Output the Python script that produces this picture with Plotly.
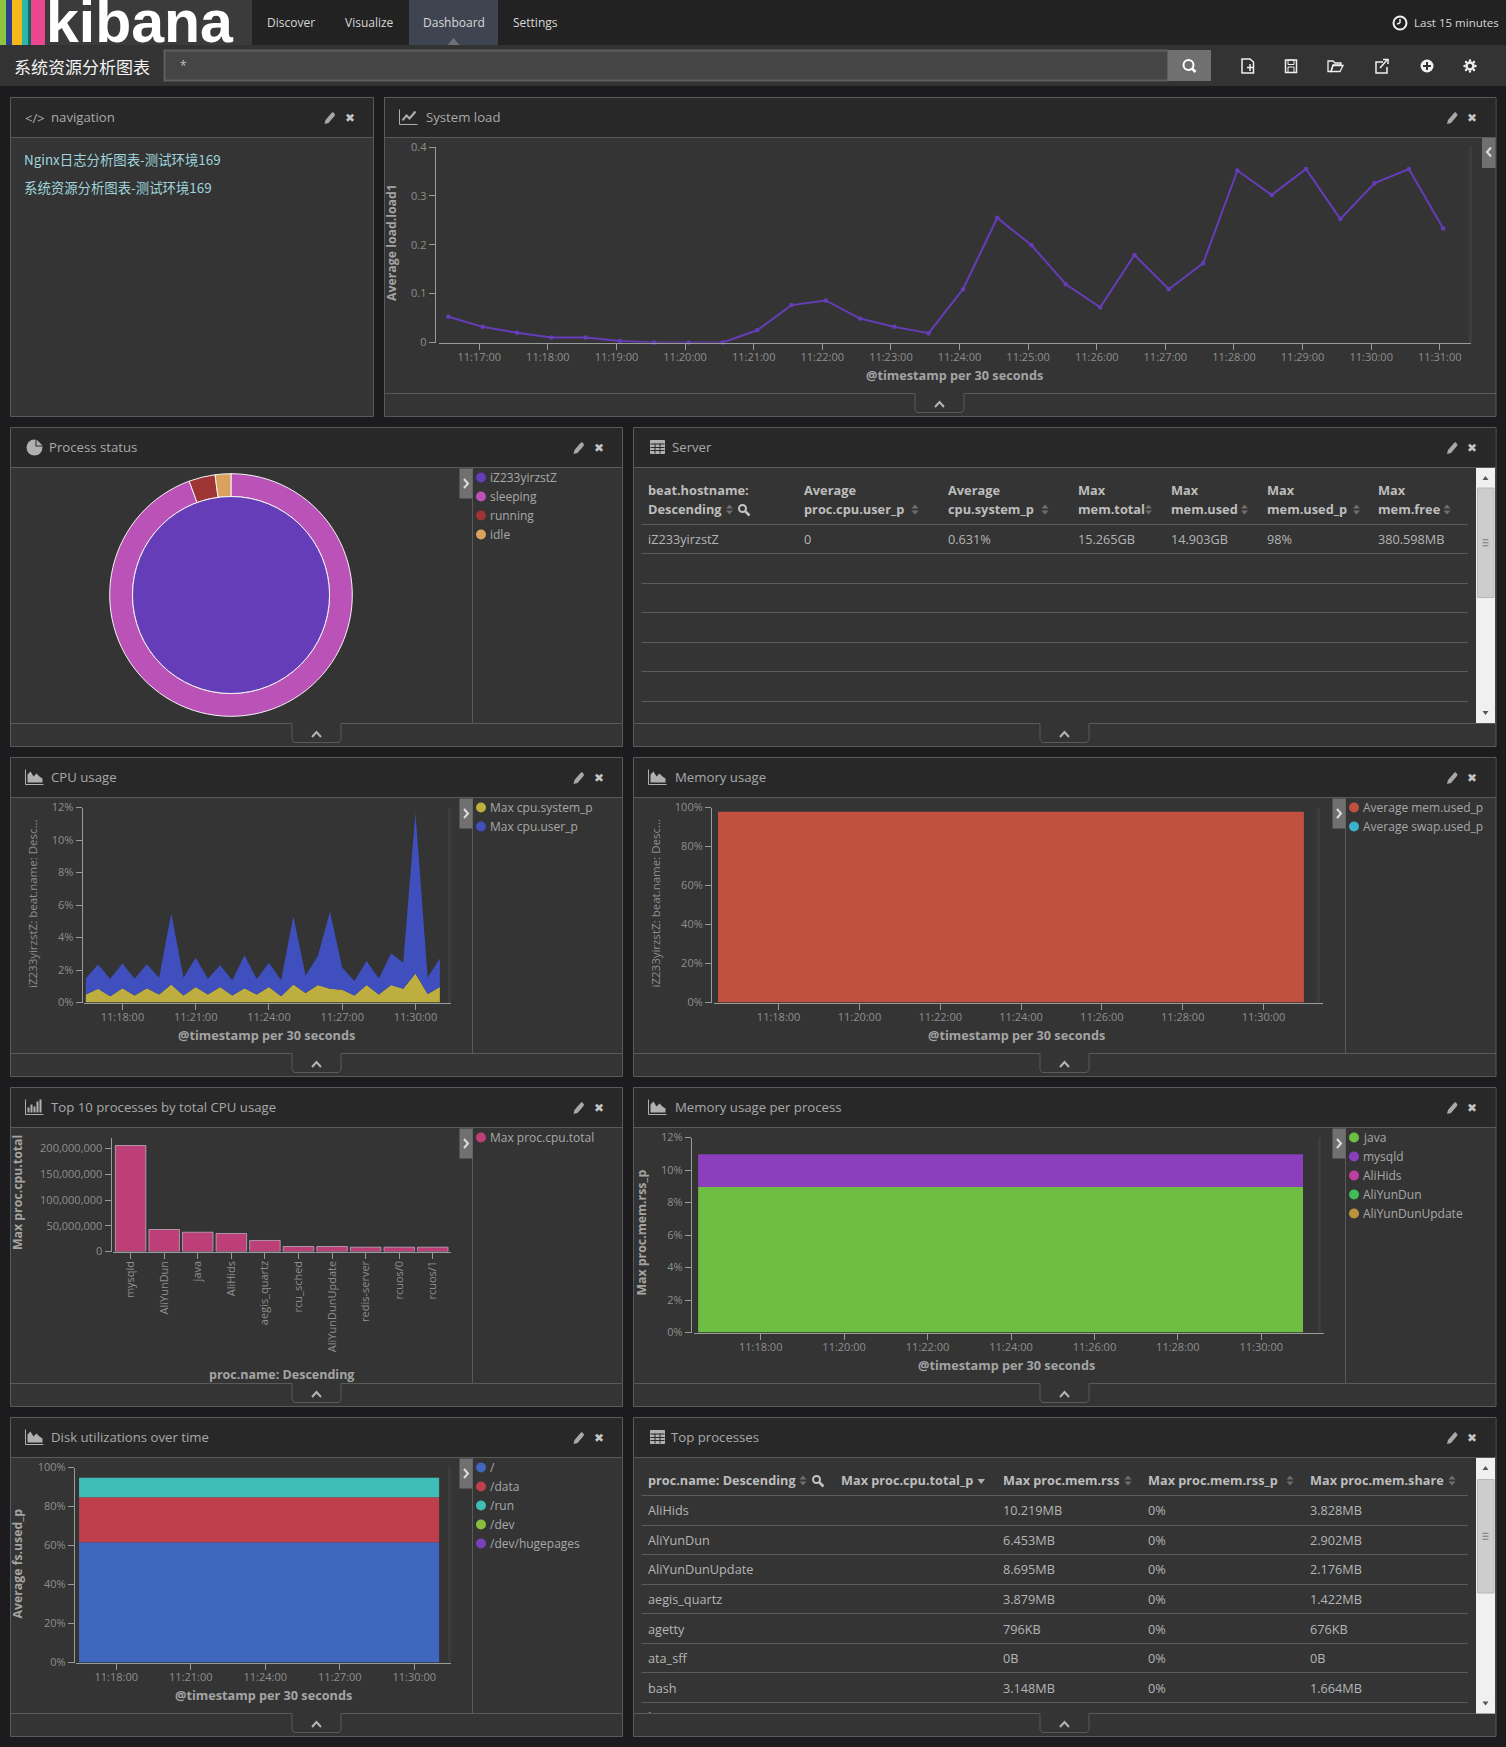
import datetime as dt
import plotly.graph_objects as go

W, H = 1506, 1747

# ---------- data ----------
times = [f"2016-01-01 11:{m:02d}:{s:02d}" for m in range(16, 32) for s in (0, 30)][1:-1]
load_times = [f"2016-01-01 11:{m:02d}:{s + 3:02d}" for m in range(16, 32) for s in (0, 30)][1:-1]
load1 = [.0526, .032, .02, .01, .01, .003, 0, 0, 0, .025, .0765, .086, .049, .032, .019,
         .109, .255, .199, .119, .072, .179, .109, .162, .352, .302, .355, .2525, .326, .355, .233]
cpu_system = [.49, .84, .39, .88, .43, .88, .49, 1.11, .43, .96, .49, .96, .43, .88, .49,
              .96, .39, 1.11, .59, 1.07, .84, .78, .43, 1.07, .49, 1.07, .84, 1.78, .53, .96]
cpu_user = [.99, 1.50, 1.07, 1.52, 1.03, 1.48, 1.03, 4.37, 1.09, 1.79, .97, 1.34, .94, 2.03, .95,
            1.48, .98, 4.20, 1.07, 1.78, 4.74, 1.37, .90, 1.49, .99, 1.95, 1.62, 9.89, 1.01, 1.75]
mem_used = [97.8] * 30
swap_used = [0] * 30
proc_java = [8.96] * 30
proc_mysqld = [2.01] * 30
proc_alihids = [0] * 30
proc_aliyundun = [0] * 30
proc_update = [0] * 30
disk_root = [61.7] * 30
disk_data = [23.1] * 30
disk_run = [9.9] * 30
disk_dev = [0] * 30
disk_huge = [0] * 30
top_names = ["mysqld", "AliYunDun", "java", "AliHids", "aegis_quartz", "rcu_sched",
             "AliYunDunUpdate", "redis-server", "rcuos/0", "rcuos/1"]
top_cpu = [205.8e6, 42.7e6, 37.5e6, 35e6, 21.4e6, 9.7e6, 9.7e6, 8.4e6, 8.4e6, 8.4e6]
status_labels = ["sleeping", "running", "idle"]
status_values = [94.4, 3.5, 2.1]
server_head = [("beat.hostname:", "Descending"), ("Average", "proc.cpu.user_p"), ("Average", "cpu.system_p"),
               ("Max", "mem.total"), ("Max", "mem.used"), ("Max", "mem.used_p"), ("Max", "mem.free")]
server_row = ["iZ233yirzstZ", "0", "0.631%", "15.265GB", "14.903GB", "98%", "380.598MB"]
proc_head = ["proc.name: Descending", "Max proc.cpu.total_p", "Max proc.mem.rss", "Max proc.mem.rss_p", "Max proc.mem.share"]
proc_rows = [("AliHids", "", "10.219MB", "0%", "3.828MB"),
             ("AliYunDun", "", "6.453MB", "0%", "2.902MB"),
             ("AliYunDunUpdate", "", "8.695MB", "0%", "2.176MB"),
             ("aegis_quartz", "", "3.879MB", "0%", "1.422MB"),
             ("agetty", "", "796KB", "0%", "676KB"),
             ("ata_sff", "", "0B", "0%", "0B"),
             ("bash", "", "3.148MB", "0%", "1.664MB")]
proc_clipped_row = ("bioset", "", "0B", "0%", "0B")

# ---------- colours ----------
PAGE, NAV, BAR, BODY, HEAD, EDGE = "#1c1c1f", "#222222", "#333333", "#343434", "#282828", "#5a5a5a"
TXT, TICK, AXIS = "#a8a8a8", "#8e8e8e", "#9a9a9a"
FONT = "Open Sans"
CJK = "Noto Sans CJK SC"

shapes, annots = [], []
X = lambda x: x / W
Y = lambda y: 1 - y / H


def rect(x0, y0, x1, y1, fill=None, line=None, lw=1):
    shapes.append(dict(type="rect", xref="paper", yref="paper", x0=X(x0), x1=X(x1), y0=Y(y0), y1=Y(y1),
                       fillcolor=fill or "rgba(0,0,0,0)", line=dict(color=line or "rgba(0,0,0,0)", width=lw if line else 0),
                       layer="below"))


def seg(x0, y0, x1, y1, color=EDGE, lw=1):
    shapes.append(dict(type="line", xref="paper", yref="paper", x0=X(x0), x1=X(x1), y0=Y(y0), y1=Y(y1),
                       line=dict(color=color, width=lw), layer="below"))


def poly(pts, fill=None, line=None, lw=1, close=True):
    d = "M " + " L ".join(f"{X(a):.6f} {Y(b):.6f}" for a, b in pts) + (" Z" if close else "")
    shapes.append(dict(type="path", xref="paper", yref="paper", path=d, fillcolor=fill or "rgba(0,0,0,0)",
                       line=dict(color=line or "rgba(0,0,0,0)", width=lw if line else 0), layer="below"))


def circ(cx, cy, r, fill=None, line=None, lw=1):
    shapes.append(dict(type="circle", xref="paper", yref="paper", x0=X(cx - r), x1=X(cx + r), y0=Y(cy - r), y1=Y(cy + r),
                       fillcolor=fill or "rgba(0,0,0,0)", line=dict(color=line or "rgba(0,0,0,0)", width=lw if line else 0),
                       layer="below"))


def T(x, y, text, size=12, color=TXT, anchor="left", angle=0, font=FONT, bold=False, vanchor="middle", height=None, valign="middle"):
    a = dict(xref="paper", yref="paper", x=X(x), y=Y(y), text=f"<b>{text}</b>" if bold else text,
             showarrow=False, xanchor=anchor, yanchor=vanchor, textangle=angle, borderpad=0, borderwidth=0,
             font=dict(family=font, size=size, color=color))
    if height:
        a.update(height=height, valign=valign)
    annots.append(a)


def chevron(cx, cy, kind, color="#c8c8c8", lw=2):
    r = 3.5
    p = {"up": [(cx - r - 1, cy + r - 1), (cx, cy - r + 1), (cx + r + 1, cy + r - 1)],
         "right": [(cx - 2, cy - r - 1), (cx + 2, cy), (cx - 2, cy + r + 1)],
         "left": [(cx + 2, cy - r - 1), (cx - 2, cy), (cx + 2, cy + r + 1)]}[kind]
    poly(p, line=color, lw=lw, close=False)


def magnifier(cx, cy, color, r=4):
    circ(cx - 1, cy - 1, r, line=color, lw=2)
    seg(cx + 2, cy + 2, cx + 6, cy + 6, color, 2.5)


def sorter(x, y, color="#6e6e6e"):
    poly([(x - 3.5, y - 1), (x + 3.5, y - 1), (x, y - 5)], fill=color)
    poly([(x - 3.5, y + 1), (x + 3.5, y + 1), (x, y + 5)], fill=color)


def scrollbar(x0, x1, y0, y1, t0, t1):
    rect(x0, y0, x1, y1, fill="#f0f0f0")
    rect(x0 + 1.5, t0, x1 - 1, t1, fill="#cdcdcd", line="#b8b8b8")
    cx = (x0 + x1) / 2
    poly([(cx - 3, y0 + 12), (cx + 3, y0 + 12), (cx, y0 + 8)], fill="#555")
    poly([(cx - 3, y1 - 12), (cx + 3, y1 - 12), (cx, y1 - 8)], fill="#555")
    for k in (-3, 0, 3):
        seg(cx - 3, (t0 + t1) / 2 + k, cx + 3, (t0 + t1) / 2 + k, "#777", 1)


def pencil(cx, cy):
    poly([(cx - 5, cy + 6), (cx - 4, cy + 2), (cx + 2, cy - 5), (cx + 3.5, cy - 6), (cx + 5.5, cy - 3.5), (cx + 5, cy - 2), (cx - 1, cy + 5)],
         fill="#a8a8a8")


def icon(kind, cx, cy):
    c = "#b0b0b0"
    if kind == "code":
        T(cx, cy, "&lt;/&gt;", 13, c, "center")
    elif kind == "line":
        poly([(cx - 9, cy - 8), (cx - 9, cy + 7), (cx + 9, cy + 7)], line=c, close=False)
        poly([(cx - 6, cy + 3), (cx - 2, cy - 2), (cx + 1, cy + 1), (cx + 7, cy - 6)], line=c, lw=2, close=False)
    elif kind == "area":
        poly([(cx - 9, cy - 8), (cx - 9, cy + 7), (cx + 9, cy + 7)], line=c, close=False)
        poly([(cx - 7, cy + 5), (cx - 7, cy - 3), (cx - 4, cy - 6), (cx - 1, cy - 1), (cx + 2, cy - 4),
              (cx + 5, cy - 1), (cx + 8, cy + 1), (cx + 8, cy + 5)], fill=c)
    elif kind == "bar":
        poly([(cx - 9, cy - 8), (cx - 9, cy + 7), (cx + 9, cy + 7)], line=c, close=False)
        for dx, h in ((-6, 5), (-3, 8), (0, 6), (3, 11), (6, 13)):
            rect(cx + dx - 1, cy + 5 - h, cx + dx + 1, cy + 5, fill=c)
    elif kind == "pie":
        circ(cx, cy, 8, fill=c)
        poly([(cx + 1, cy - 1), (cx + 1, cy - 10), (cx + 10, cy - 6), (cx + 10, cy - 1)], fill=HEAD)
        poly([(cx + 2, cy - 2), (cx + 2, cy - 8), (cx + 8, cy - 2)], fill=c)
    elif kind == "table":
        rect(cx - 7, cy - 7, cx + 7, cy + 6, line=c, fill=c)
        for dx in (-2.5, 2.5):
            seg(cx + dx, cy - 4, cx + dx, cy + 6, HEAD, 1)
        for dy in (-3.5, 0, 3):
            seg(cx - 7, cy + dy, cx + 7, cy + dy, HEAD, 1)


# ---------- page chrome ----------
rect(0, 0, W, H, fill=PAGE)
rect(0, 0, W, 45, fill=NAV)
rect(0, 0, 252, 45, fill="#3b3b3b")
for x0, x1, c in [(0, 6, "#8CC63F"), (6, 12, "#2B3D8F"), (12, 22, "#F4B81C"), (22, 28, "#2DB5AC"),
                  (28, 31, "#0E6B62"), (31, 45, "#EE4590")]:
    rect(x0, 0, x1, 45, fill=c)
rect(409, 0, 498, 45, fill="#3f4550")
poly([(447.5, 45), (459.5, 45), (453.5, 38)], fill="#6a6f78")
rect(0, 45, W, 86, fill=BAR)
rect(164.5, 50.5, 1168, 80.5, fill="#454545", line="#5e5e5e", lw=2)
rect(1168, 50, 1211, 81, fill="#707070")
T(46, 55.5, "kibana", 59, "#ffffff", font="Liberation Sans", bold=True, vanchor="bottom", height=55, valign="bottom")
for name, cx in [("Discover", 291), ("Visualize", 369), ("Dashboard", 454), ("Settings", 535)]:
    T(cx, 22.5, name, 12, "#d8d8d8", "center")
T(14, 66, "系统资源分析图表", 17, "#f2f2f2", font=CJK, height=18)
T(180, 65, "*", 12, "#c0c0c0")
T(1499, 22.5, "Last 15 minutes", 11.5, "#d8d8d8", "right")
circ(1400, 23, 6.5, line="#f0f0f0", lw=2)
seg(1400, 23, 1400, 19, "#f0f0f0", 1.5)
seg(1400, 23, 1397, 24, "#f0f0f0", 1.5)
magnifier(1189.5, 66, "#ffffff", 5)
IC = "#f0f0f0"
poly([(1242, 59), (1250, 59), (1253.5, 62), (1253.5, 73), (1242, 73)], line=IC, lw=1.5)
seg(1250, 64, 1250, 71, IC, 1.5)
seg(1247, 67.5, 1253, 67.5, IC, 1.5)
rect(1285.5, 60, 1296.5, 72.5, line=IC, lw=1.5)
rect(1288, 60, 1294, 64.5, line=IC)
rect(1288, 67, 1294, 72.5, line=IC)
poly([(1328, 61), (1333, 61), (1335, 63), (1341, 63), (1341, 65), (1333, 65), (1331, 71.5), (1328, 71.5)], line=IC, lw=1.3)
poly([(1331, 71.5), (1333, 65.5), (1343, 65.5), (1340, 71.5)], line=IC, lw=1.3)
poly([(1383, 62), (1376, 62), (1376, 73), (1387, 73), (1387, 67)], line=IC, lw=1.5, close=False)
seg(1380, 68, 1387, 60, IC, 1.5)
poly([(1383, 59.5), (1388, 59.5), (1388, 64)], line=IC, lw=1.5, close=False)
circ(1427, 66, 6.5, fill=IC)
seg(1423, 66, 1431, 66, "#333", 2)
seg(1427, 62, 1427, 70, "#333", 2)
circ(1470, 66, 3.5, line=IC, lw=2.5)
for a, b in [(0, -5.5), (0, 5.5), (-5.5, 0), (5.5, 0), (-4, -4), (4, 4), (-4, 4), (4, -4)]:
    circ(1470 + a, 66 + b, 1.2, fill=IC)

# ---------- panels ----------
L0, L1, R0, R1 = 10.5, 622.5, 633.5, 1496
rows = [97, 427, 757, 1087, 1417]
panels = [(L0, 373.5, 0, "navigation", "code", 50.5, None, None),
          (384.5, R1, 0, "System load", "line", 425.5, None, 939.5),
          (L0, L1, 1, "Process status", "pie", 49, 472.5, 316.5),
          (R0, R1, 1, "Server", "table", 671.5, None, 1064.5),
          (L0, L1, 2, "CPU usage", "area", 51, 472.5, 316.5),
          (R0, R1, 2, "Memory usage", "area", 674.5, 1345.5, 1064.5),
          (L0, L1, 3, "Top 10 processes by total CPU usage", "bar", 51, 472.5, 316.5),
          (R0, R1, 3, "Memory usage per process", "area", 674.5, 1345.5, 1064.5),
          (L0, L1, 4, "Disk utilizations over time", "area", 51, 472.5, 316.5),
          (R0, R1, 4, "Top processes", "table", 671, None, 1064.5)]
for x0, x1, r, title, kind, tx, div, tab in panels:
    t = rows[r] + .5
    b = t + 319
    rect(x0, t, x1, b, fill=BODY, line=EDGE)
    rect(x0 + .5, t + .5, x1 - .5, t + 40, fill=HEAD)
    seg(x0, t + 40, x1, t + 40)
    icon(kind, x0 + 24, t + 20)
    T(tx, t + 19.5, title, 13.2, TXT)
    pencil(x1 - 44, t + 20.5)
    T(x1 - 24, t + 20.5, "✖", 12, "#c4c4c4", "center", font="DejaVu Sans")
    if tab:
        fy = t + 296
        seg(x0, fy, x1, fy)
        hw = 24.5
        rect(tab - hw, fy, tab + hw, fy + 18, fill=BODY)
        poly([(tab - hw, fy), (tab - hw, fy + 16), (tab - hw + 2, fy + 19), (tab + hw - 2, fy + 19), (tab + hw, fy + 16),
              (tab + hw, fy)], line="#5a5a5a", close=False)
        seg(tab - hw + .5, fy, tab + hw - .5, fy, BODY, 1.5)
        chevron(tab, fy + 11, "up", "#b4b4b4")
    if div:
        seg(div, t + 40, div, t + 296)
        rect(div - 13, t + 41, div, t + 71, fill="#707070")
        chevron(div - 6.5, t + 56, "right", "#dddddd")

# nav links
T(24, 159, "Nginx日志分析图表-测试环境169", 13.4, "#9fd4dc", font=CJK)
T(24, 187, "系统资源分析图表-测试环境169", 13.4, "#9fd4dc", font=CJK)

# system load side button
rect(1482, 138, 1495.5, 168, fill="#707070")
chevron(1489, 152, "left", "#dddddd")


def legend(x, top, items):
    for k, (label, col) in enumerate(items):
        y = top + 10 + 19 * k
        circ(x, y, 5, fill=col)
        T(x + 9, y, label, 12, TXT)


legend(481, 467.5, [("iZ233yirzstZ", "#653DB8"), ("sleeping", "#BA52B8"), ("running", "#9E3434"), ("idle", "#DBA25E")])
legend(481, 797.5, [("Max cpu.system_p", "#BEAE3F"), ("Max cpu.user_p", "#3F4FBD")])
legend(1354, 797.5, [("Average mem.used_p", "#C05140"), ("Average swap.used_p", "#3CB0C9")])
legend(481, 1127.5, [("Max proc.cpu.total", "#BD3F78")])
legend(1354, 1127.5, [("java", "#6EBE44"), ("mysqld", "#8C3FBD"), ("AliHids", "#BD3FA0"), ("AliYunDun", "#3FBD57"),
                      ("AliYunDunUpdate", "#BD923F")])
legend(481, 1457.5, [("/", "#3F67BD"), ("/data", "#BE3F4B"), ("/run", "#3DBDB5"), ("/dev", "#88BF3F"),
                     ("/dev/hugepages", "#7A3FBD")])

# axis titles
TS = "@timestamp per 30 seconds"
for x, y in [(954.7, 375), (266.5, 1034.5), (1017, 1034.5), (1007, 1364.5), (263, 1694.5)]:
    T(x, y, TS, 12.7, "#a4a4a4", "center", bold=True)
T(281.5, 1374.5, "proc.name: Descending", 12.5, "#a4a4a4", "center", bold=True)
T(392, 243, "Average load.load1", 12.3, "#a4a4a4", "center", -90, bold=True)
T(17.5, 1192.5, "Max proc.cpu.total", 12.3, "#a4a4a4", "center", -90, bold=True)
T(640.5, 1233, "Max proc.mem.rss_p", 12.3, "#a4a4a4", "center", -90, bold=True)
T(17, 1563.5, "Average fs.used_p", 12.3, "#a4a4a4", "center", -90, bold=True)
for x in (32.5, 655):
    T(x, 903.5, "iZ233yirzstZ: beat.name: Desc...", 11.5, "#8e8e8e", "center", -90)

# server table
srv_x = [647.5, 804, 948, 1078, 1171, 1267, 1378]
for x, (a, b) in zip(srv_x, server_head):
    T(x, 490, a, 12.8, "#bdbdbd", bold=True)
    T(x, 509, b, 12.8, "#bdbdbd", bold=True)
for x, v in zip(srv_x, server_row):
    T(x, 539, v, 12.7, "#b4b4b4")
for y in (524.5, 553.5, 583.5, 612.5, 642.5, 671.5, 701.5):
    seg(641.5, y, 1468, y)
for x in (729.5, 915, 1045, 1148.5, 1244.5, 1356.5, 1447):
    sorter(x, 509.5)
magnifier(743.5, 509.5, "#c4c4c4", 3.5)
scrollbar(1476, 1495, 468, 723, 488, 597.5)

# process table
prc_x = [647.5, 841, 1002.5, 1148, 1310]
for x, h in zip(prc_x, proc_head):
    T(x, 1480, h, 12.7, "#bdbdbd", bold=True)
for y, row in zip((1509.5, 1539.5, 1568.5, 1598.5, 1628.5, 1657.5, 1687.5), proc_rows):
    for x, v in zip(prc_x, row):
        if v:
            T(x, y, v, 12.7, "#b4b4b4")
for x, v in zip(prc_x, proc_clipped_row):
    if v:
        T(x, 1708, v, 12.7, "#b4b4b4", vanchor="top", height=5, valign="top")
for y in (1495.5, 1525.5, 1554.5, 1584.5, 1613.5, 1643.5, 1672.5, 1702.5):
    seg(641.5, y, 1468, y)
for x in (803, 1128, 1290, 1452):
    sorter(x, 1480.5)
magnifier(817.5, 1480.5, "#c4c4c4", 3.5)
poly([(977.5, 1479), (985, 1479), (981.2, 1484)], fill="#b0b0b0")
scrollbar(1476, 1495, 1458, 1713.5, 1479.5, 1593)

# ---------- charts ----------
fig = go.Figure()
layout = {}


def tm(minutes):
    return (dt.datetime(2016, 1, 1, 11, 0) + dt.timedelta(minutes=minutes)).strftime("%Y-%m-%d %H:%M:%S.%f")


def axes(n, xa, ya, x0, x1, ytop, ybot, yaxis_x, xrange=None, xtick=None, yrange=None, yvals=None, suffix="", yfmt=None,
         strip=None):
    tick = dict(ticks="outside", ticklen=6, tickwidth=1, tickcolor=AXIS, showline=True, linecolor=AXIS, linewidth=1,
                showgrid=False, zeroline=False, tickfont=dict(family=FONT, size=11, color=TICK))
    ax = dict(domain=[X(x0), X(x1)], anchor=ya, ticklabelstandoff=-2, **tick)
    if xrange:
        ax.update(type="date", range=[tm(xrange[0]), tm(xrange[1])], tickformat="%H:%M:%S",
                  tickmode="array", tickvals=[f"2016-01-01 11:{m}:00" for m in xtick],
                  ticktext=[f"11:{m}:00" for m in xtick])
    ay = dict(domain=[Y(ybot), Y(ytop)], anchor="free", position=X(yaxis_x), range=yrange, tickmode="array", tickvals=yvals, **tick)
    if suffix:
        ay["ticktext"] = [f"{v}{suffix}" for v in yvals]
    if yfmt:
        ay["tickformat"] = yfmt
    layout[f"xaxis{n}"] = ax
    layout[f"yaxis{n}"] = ay
    if strip:
        rect(strip, ytop, strip + 3, ybot, fill="#3d3d3d")


def area(n, y, col, name):
    fig.add_trace(go.Scatter(x=times, y=y, name=name, mode="none", stackgroup=f"s{n}", fillcolor=col,
                             xaxis=f"x{n}", yaxis=f"y{n}"))


pct = [0, 20, 40, 60, 80, 100]
p12 = [0, 2, 4, 6, 8, 10, 12]

axes(1, "x1", "y1", 439, 1471, 147, 342.5, 434.7, (16.413, 31.455), list(range(17, 32)), [0, .4], [0, .1, .2, .3, .4], strip=1469)
fig.add_trace(go.Scatter(x=load_times, y=load1, name="Average load.load1", mode="lines+markers",
                         line=dict(color="#653DB8", width=2), marker=dict(color="#653DB8", size=4.5), cliponaxis=False,
                         xaxis="x1", yaxis="y1"))

axes(2, "x2", "y2", 83.7, 450.6, 807.5, 1002.5, 81.6, (16.414, 31.44), [18, 21, 24, 27, 30], [0, 12], p12, "%", strip=448)
area(2, cpu_system, "#BEAE3F", "Max cpu.system_p")
area(2, cpu_user, "#3F4FBD", "Max cpu.user_p")

axes(3, "x3", "y3", 713.8, 1322.7, 807.5, 1002.5, 711, (16.396, 31.465), [18, 20, 22, 24, 26, 28, 30], [0, 100], pct, "%", strip=1317)
area(3, mem_used, "#C05140", "Average mem.used_p")
area(3, swap_used, "#3CB0C9", "Average swap.used_p")

axes(4, "x4", "y4", 113, 450.6, 1137.5, 1251.5, 110.6, yrange=[0, 221.4e6], yvals=[0, 50e6, 100e6, 150e6, 200e6], yfmt=",d", strip=None)
layout["xaxis4"].update(type="category", range=[-.524, 9.53], tickangle=-90, categoryorder="array", categoryarray=top_names)
fig.add_trace(go.Bar(x=top_names, y=top_cpu, name="Max proc.cpu.total", marker=dict(color="#BD3F78"), width=.91,
                     xaxis="x4", yaxis="y4"))

axes(5, "x5", "y5", 693.7, 1323.8, 1137.5, 1332.5, 690.9, (16.394, 31.498), [18, 20, 22, 24, 26, 28, 30], [0, 12], p12, "%", strip=1318)
area(5, proc_java, "#6EBE44", "java")
area(5, proc_mysqld, "#8C3FBD", "mysqld")
area(5, proc_alihids, "#BD3FA0", "AliHids")
area(5, proc_aliyundun, "#3FBD57", "AliYunDun")
area(5, proc_update, "#BD923F", "AliYunDunUpdate")

axes(6, "x6", "y6", 75.9, 450.6, 1467.5, 1662.5, 73.9, (16.373, 31.462), [18, 21, 24, 27, 30], [0, 100], pct, "%", strip=448)
area(6, disk_root, "#3F67BD", "/")
area(6, disk_data, "#BE3F4B", "/data")
area(6, disk_run, "#3DBDB5", "/run")
area(6, disk_dev, "#88BF3F", "/dev")
area(6, disk_huge, "#7A3FBD", "/dev/hugepages")

# process status rings
cx, cy, ro, ri = 231, 595, 121.3, 98.5
fig.add_trace(go.Pie(labels=status_labels, values=status_values, hole=ri / ro, sort=False, direction="clockwise",
                     rotation=0, textinfo="none", marker=dict(colors=["#BA52B8", "#9E3434", "#DBA25E"],
                                                              line=dict(color="#f4f4f4", width=1)),
                     domain=dict(x=[X(cx - ro), X(cx + ro)], y=[Y(cy + ro), Y(cy - ro)])))
fig.add_trace(go.Pie(labels=["iZ233yirzstZ"], values=[1], textinfo="none",
                     marker=dict(colors=["#653DB8"], line=dict(color="#f4f4f4", width=1)),
                     domain=dict(x=[X(cx - ri), X(cx + ri)], y=[Y(cy + ri), Y(cy - ri)])))

fig.update_layout(width=W, height=H, margin=dict(l=0, r=0, t=0, b=0, pad=0, autoexpand=False), paper_bgcolor=PAGE, plot_bgcolor="rgba(0,0,0,0)",
                  showlegend=False, shapes=shapes, annotations=annots, hovermode="closest",
                  font=dict(family=FONT, color=TXT), **layout)
fig.write_html("out.html", config=dict(displayModeBar=False),
               post_script="document.documentElement.style.overflow='hidden';document.body.style.margin='0';document.body.style.background='#1c1c1f';")
